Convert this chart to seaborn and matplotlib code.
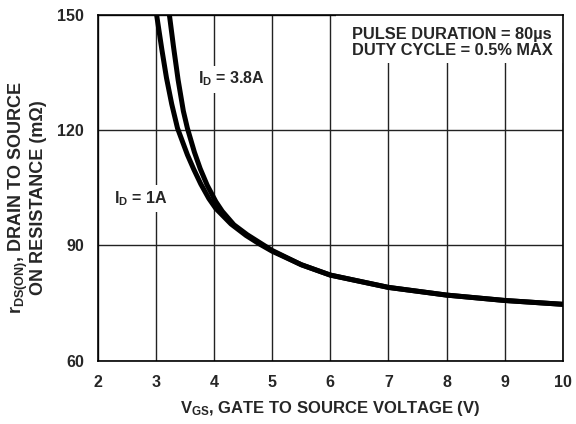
import matplotlib
matplotlib.use("Agg")
import matplotlib.pyplot as plt
from matplotlib.patches import Rectangle
import seaborn as sns
import pandas as pd

# Data
vgs_1a = [3.01, 3.10, 3.18, 3.27, 3.37, 3.54, 3.65, 3.77, 3.91, 4.03, 4.29, 4.55, 4.78,
          5.0, 5.5, 6.0, 7.0, 8.0, 9.0, 10.0]
r_1a = [150.0, 141.0, 133.6, 126.8, 120.5, 113.6, 109.8, 106.0, 102.2, 99.6, 95.6, 92.6, 90.4,
        88.5, 85.0, 82.3, 79.1, 77.1, 75.7, 74.7]
vgs_38a = [3.23, 3.30, 3.38, 3.47, 3.54, 3.66, 3.76, 3.88, 4.03, 4.14, 4.34, 4.57, 4.80,
           5.0, 5.5, 6.0, 7.0, 8.0, 9.0, 10.0]
r_38a = [150.0, 141.8, 133.1, 125.0, 120.5, 114.3, 110.0, 105.7, 101.4, 98.9, 95.4, 92.8, 90.6,
         88.7, 85.0, 82.3, 79.1, 77.1, 75.7, 74.7]

x_ticks = [2, 3, 4, 5, 6, 7, 8, 9, 10]
y_ticks = [60, 90, 120, 150]

df = pd.concat([
    pd.DataFrame({"vgs": vgs_1a, "r": r_1a, "id": "1A"}),
    pd.DataFrame({"vgs": vgs_38a, "r": r_38a, "id": "3.8A"}),
])

sns.set_style("white")
plt.rcParams['font.family'] = ['Liberation Sans', 'DejaVu Sans']
plt.rcParams['font.weight'] = 'bold'
plt.rcParams['mathtext.fontset'] = 'custom'
plt.rcParams['mathtext.bf'] = 'Liberation Sans:bold'
plt.rcParams['mathtext.rm'] = 'Liberation Sans:bold'
plt.rcParams['mathtext.it'] = 'Liberation Sans:bold'
plt.rcParams['mathtext.default'] = 'bf'

fig = plt.figure(figsize=(5.76, 4.24), dpi=100)
ax = fig.add_axes([0.170, 0.149, 0.807, 0.816])

sns.lineplot(data=df, x="vgs", y="r", hue="id", palette=["black", "black"],
             linewidth=3.6, legend=False, ax=ax, sort=False, zorder=3)

ax.set_xlim(2, 10)
ax.set_ylim(60, 150)
ax.set_xticks(x_ticks)
ax.set_yticks(y_ticks)
ax.grid(True, color="#222222", linewidth=1.0, zorder=0)
ax.set_axisbelow(True)
ax.tick_params(axis="x", length=0, labelsize=11.5, pad=10)
ax.tick_params(axis="y", length=0, labelsize=11.5, pad=10)
for lab in ax.get_xticklabels() + ax.get_yticklabels():
    lab.set_fontweight("bold")
for s in ax.spines.values():
    s.set_color("black")
    s.set_linewidth(1.2)

ax.set_xlabel(r"$V_{GS}$, GATE TO SOURCE VOLTAGE (V)", fontsize=12, fontweight="bold", labelpad=7)
ax.set_ylabel("$r_{DS(ON)}$, DRAIN TO SOURCE\nON RESISTANCE (mΩ)", fontsize=13,
              fontweight="bold", linespacing=0.95)
ax.yaxis.set_label_coords(-0.110, 0.472)

# white area behind the note (covers grid lines)
ax.add_patch(Rectangle((0.512, 0.861), 0.488, 0.139, transform=ax.transAxes,
                       facecolor="white", edgecolor="none", zorder=2))

bbox = dict(facecolor="white", edgecolor="none", pad=3)
ax.text(4.29, 133.3, "$I_D$ = 3.8A", fontsize=11.5, fontweight="bold", ha="center", va="center",
        bbox=bbox, zorder=4)
ax.text(2.73, 102.2, "$I_D$ = 1A", fontsize=11.5, fontweight="bold", ha="center", va="center",
        bbox=bbox, zorder=4)
ax.text(0.547, 0.965, "PULSE DURATION = 80µs\nDUTY CYCLE = 0.5% MAX", transform=ax.transAxes,
        fontsize=11.8, fontweight="bold", ha="left", va="top", linespacing=1.05, zorder=4)

fig.savefig("out.png", dpi=100)
